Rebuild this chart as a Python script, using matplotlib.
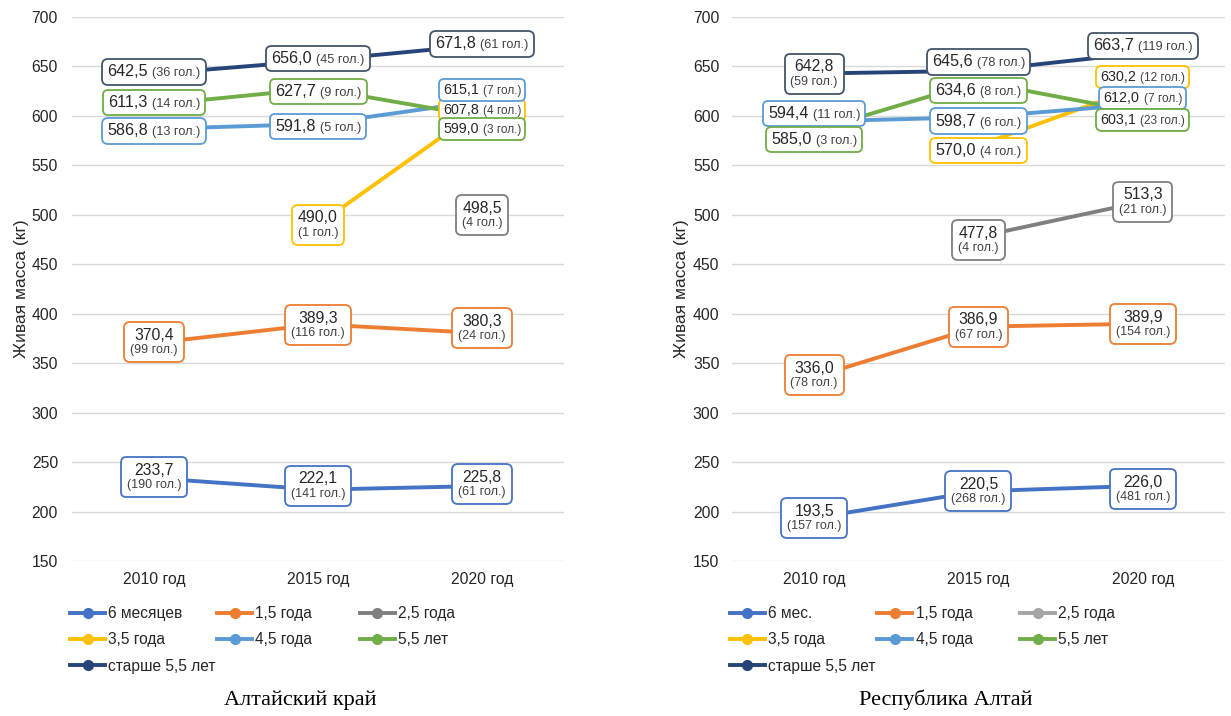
import numpy as np
import matplotlib
matplotlib.use('Agg')
import matplotlib.pyplot as plt
from matplotlib.lines import Line2D
from matplotlib.legend import Legend
from matplotlib.offsetbox import TextArea, HPacker, VPacker, AnnotationBbox

plt.rcParams['font.family'] = ['Liberation Sans', 'DejaVu Sans']

nan = np.nan
years = ['2010 год', '2015 год', '2020 год']
yticks = list(range(150, 701, 50))

# ---- Алтайский край ----
ak_names = ['6 месяцев', '1,5 года', '2,5 года', '3,5 года', '4,5 года', '5,5 лет', 'старше 5,5 лет']
ak_6m = [233.7, 222.1, 225.8];   ak_6m_n = [190, 141, 61]
ak_15 = [370.4, 389.3, 380.3];   ak_15_n = [99, 116, 24]
ak_25 = [nan, nan, 498.5];       ak_25_n = [None, None, 4]
ak_35 = [nan, 490.0, 607.8];     ak_35_n = [None, 1, 4]
ak_45 = [586.8, 591.8, 615.1];   ak_45_n = [13, 5, 7]
ak_55 = [611.3, 627.7, 599.0];   ak_55_n = [14, 9, 3]
ak_old = [642.5, 656.0, 671.8];  ak_old_n = [36, 45, 61]

# ---- Республика Алтай ----
ra_names = ['6 мес.', '1,5 года', '2,5 года', '3,5 года', '4,5 года', '5,5 лет', 'старше 5,5 лет']
ra_6m = [193.5, 220.5, 226.0];   ra_6m_n = [157, 268, 481]
ra_15 = [336.0, 386.9, 389.9];   ra_15_n = [78, 67, 154]
ra_25 = [nan, 477.8, 513.3];     ra_25_n = [None, 4, 21]
ra_35 = [nan, 570.0, 630.2];     ra_35_n = [None, 4, 12]
ra_45 = [594.4, 598.7, 612.0];   ra_45_n = [11, 6, 7]
ra_55 = [585.0, 634.6, 603.1];   ra_55_n = [3, 8, 23]
ra_old = [642.8, 645.6, 663.7];  ra_old_n = [59, 78, 119]

# styles
ak_colors = ['#4472C4', '#ED7D31', '#7F7F7F', '#FFC000', '#5B9BD5', '#70AD47', '#264478']
ra_colors = ['#4472C4', '#ED7D31', '#7F7F7F', '#FFC000', '#5B9BD5', '#70AD47', '#264478']
ra_leg_colors = ['#4472C4', '#ED7D31', '#A5A5A5', '#FFC000', '#5B9BD5', '#70AD47', '#264478']
edge_colors = ['#4472C4', '#ED7D31', '#7F7F7F', '#FFC000', '#5B9BD5', '#70AD47', '#44546A']

# label style per series and year: (kind, vertical shift in px)
ak_lab = [
    [('stack', 1), ('stack', 4), ('stack', 2)],
    [('stack', 1), ('stack', -1), ('stack', 5)],
    [None, None, ('stack', 1)],
    [None, ('stack', 0), ('small', -2)],
    [('big', -2), ('big', -2.5), ('small', 11)],
    [('big', 2), ('big', -3), ('small', -12)],
    [('big', 2), ('big', 2), ('big', 1)],
]
ra_lab = [
    [('stack', 0), ('stack', 0), ('stack', -3)],
    [('stack', 2), ('stack', 0), ('stack', 0)],
    [None, ('stack', -3), ('stack', 0)],
    [None, ('big', -5), ('small', 9)],
    [('big', 8), ('big', -4), ('small', 6)],
    [('big', -9), ('big', -9), ('small', -7)],
    [('stack', 0), ('big', 9), ('big', 7)],
]


def fmt(v):
    return f"{v:.1f}".replace('.', ',')


def add_label(ax, x, y, v, n, kind, dy, color):
    if kind == 'stack':
        t1 = TextArea(fmt(v), textprops=dict(size=11.3, color='#262626'))
        t2 = TextArea(f"({n} гол.)", textprops=dict(size=9, color='#404040'))
        box = VPacker(children=[t1, t2], align='center', pad=0, sep=1)
        bpad = 0.42
    else:
        s1, s2 = (11.6, 9.2) if kind == 'big' else (10.3, 8.5)
        t1 = TextArea(fmt(v), textprops=dict(size=s1, color='#262626'))
        t2 = TextArea(f"({n} гол.)", textprops=dict(size=s2, color='#404040'))
        box = HPacker(children=[t1, t2], align='baseline', pad=0, sep=3)
        bpad = 0.38 if kind == 'big' else 0.3
    ab = AnnotationBbox(box, (x, y), xybox=(0, dy * 0.72), xycoords='data',
                        boxcoords='offset points', frameon=True, pad=0,
                        bboxprops=dict(boxstyle=f'round,pad={bpad},rounding_size=0.4',
                                       ec=color, lw=1.3, fc='white'),
                        zorder=6)
    ax.add_artist(ab)


def draw_panel(ax, names, series, counts, colors, edges, leg_colors, labs):
    x = np.arange(len(years))
    for vals, c in zip(series, colors):
        ax.plot(x, vals, color=c, lw=2.8, solid_capstyle='round', zorder=3)
    for si, (vals, ns) in enumerate(zip(series, counts)):
        for yi in range(len(years)):
            spec = labs[si][yi]
            if spec is None or np.isnan(vals[yi]):
                continue
            add_label(ax, x[yi], vals[yi], vals[yi], ns[yi], spec[0], spec[1], edges[si])
    ax.set_xlim(-0.5, 2.5)
    ax.set_ylim(150, 700)
    ax.set_yticks(yticks)
    ax.set_xticks(x)
    ax.set_xticklabels(years)
    ax.yaxis.grid(True, color='#D9D9D9', lw=1)
    ax.set_axisbelow(True)
    for s in ax.spines.values():
        s.set_visible(False)
    ax.tick_params(length=0, labelsize=11.3, colors='#262626')
    ax.tick_params(axis='x', pad=8)
    ax.set_ylabel('Живая масса (кг)', fontsize=12.5, color='#262626')
    # legend laid out row by row in three equal columns
    handles = [Line2D([], [], color=c, lw=2.8, marker='o', ms=7) for c in leg_colors]
    cols = [[0, 3, 6], [1, 4], [2, 5]]
    xs = [-0.004, 0.295, 0.585]
    for xi, idxs in zip(xs, cols):
        leg = Legend(ax, [handles[i] for i in idxs], [names[i] for i in idxs],
                     loc='upper left', bbox_to_anchor=(xi, -0.083), frameon=False,
                     fontsize=11.2, handlelength=2.25, handletextpad=0.2,
                     labelspacing=0.72, borderpad=0, borderaxespad=0,
                     labelcolor='#262626')
        ax.add_artist(leg)


fig = plt.figure(figsize=(12.31, 7.16), dpi=100)
ax1 = fig.add_axes([0.0585, 0.2165, 0.3997, 0.7598])
ax2 = fig.add_axes([0.5946, 0.2165, 0.4005, 0.7598])

draw_panel(ax1, ak_names,
           [ak_6m, ak_15, ak_25, ak_35, ak_45, ak_55, ak_old],
           [ak_6m_n, ak_15_n, ak_25_n, ak_35_n, ak_45_n, ak_55_n, ak_old_n],
           ak_colors, edge_colors, ak_colors, ak_lab)
draw_panel(ax2, ra_names,
           [ra_6m, ra_15, ra_25, ra_35, ra_45, ra_55, ra_old],
           [ra_6m_n, ra_15_n, ra_25_n, ra_35_n, ra_45_n, ra_55_n, ra_old_n],
           ra_colors, edge_colors, ra_leg_colors, ra_lab)
ax1.yaxis.set_tick_params(pad=10)
ax2.yaxis.set_tick_params(pad=9)
ax1.yaxis.labelpad = 2
ax2.yaxis.labelpad = 3

fig.text(0.244, 0.022, 'Алтайский край', ha='center', va='center',
         family=['Liberation Serif', 'DejaVu Serif'], size=16, color='black')
fig.text(0.768, 0.022, 'Республика Алтай', ha='center', va='center',
         family=['Liberation Serif', 'DejaVu Serif'], size=16, color='black')

fig.savefig('out.png', dpi=100, facecolor='white')
